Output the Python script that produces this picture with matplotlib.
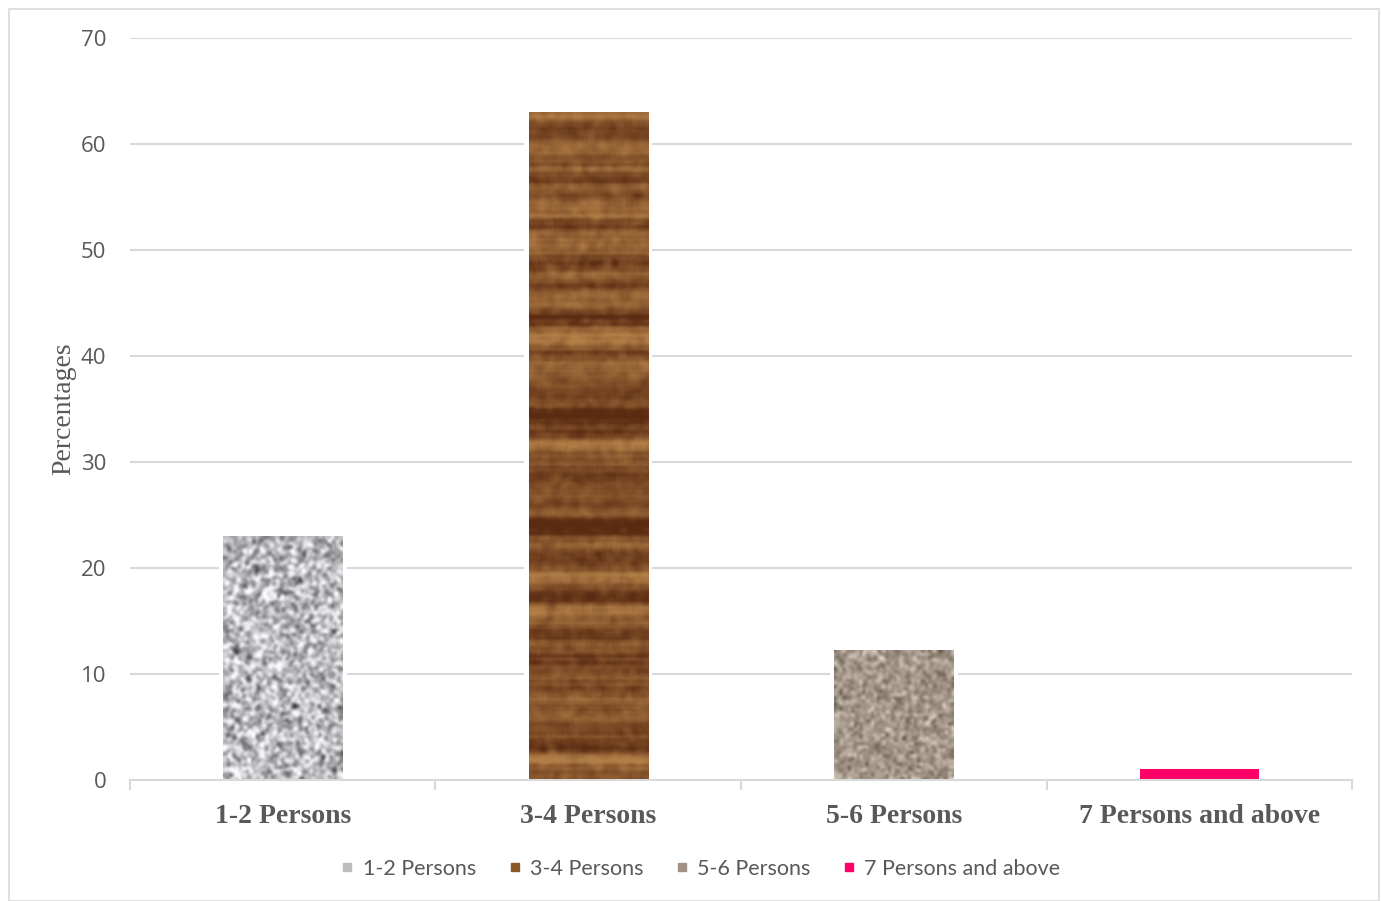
import matplotlib
matplotlib.use("Agg")
import matplotlib.pyplot as plt
import numpy as np
from matplotlib.lines import Line2D
from matplotlib.patches import Rectangle

categories = ["1-2 Persons", "3-4 Persons", "5-6 Persons", "7 Persons and above"]
percentages = [23, 63, 12.2, 1]
legend_colors = ["#BDBDBD", "#8B5A2B", "#A09284", "#FF0066"]

GRID = "#D9D9D9"
TEXT = "#595959"
BAR_WIDTH = 0.39

rng = np.random.default_rng(7)


def smooth(a, k):
    """Simple box blur along both axes."""
    kern = np.ones(k) / k
    a = np.apply_along_axis(lambda r: np.convolve(r, kern, mode="same"), 1, a)
    a = np.apply_along_axis(lambda c: np.convolve(c, kern, mode="same"), 0, a)
    return a


def granite(h, w, base, spread):
    n = smooth(rng.normal(size=(h, w)), 2)
    n = n / n.std()
    v = np.clip(base + spread * n, 0, 1)
    return np.dstack([v, v, v * 1.02]).clip(0, 1)


def stone(h, w):
    n = rng.normal(size=(h, w))
    c0 = np.array([0.64, 0.59, 0.54])
    img = c0[None, None, :] + 0.13 * n[..., None]
    return np.clip(img, 0, 1)


def wood(h, w):
    rows = rng.normal(size=h)
    rows = np.convolve(rows, np.ones(5) / 5, mode="same")
    rows = rows / rows.std()
    streak = smooth(rng.normal(size=(h, w)), 4)
    streak = streak / streak.std()
    t = np.clip(0.5 + 0.24 * rows[:, None] + 0.08 * streak, 0, 1)
    dark = np.array([0.36, 0.17, 0.07])
    light = np.array([0.70, 0.50, 0.28])
    return dark[None, None, :] + (light - dark)[None, None, :] * t[..., None]


textures = [
    granite(110, 55, 0.74, 0.16),
    wood(300, 60),
    stone(45, 42),
    None,
]

fig = plt.figure(figsize=(13.81, 9.01), dpi=100)
fig.patches.append(Rectangle((0.0065, 0.0), 0.992, 0.99, transform=fig.transFigure,
                             fill=False, edgecolor="#D9D9D9", linewidth=1.2))
ax = fig.add_axes([0.0941, 0.1343, 0.8850, 0.8235])

x = np.arange(len(categories))
# white backing so the gridlines stop just short of each bar
ax.bar(x, percentages, width=BAR_WIDTH + 0.03, color="white", linewidth=0, zorder=2)
bars = ax.bar(x, percentages, width=BAR_WIDTH, color=legend_colors,
              linewidth=0, zorder=2.5)

for bar, tex in zip(bars, textures):
    if tex is None:
        continue
    x0, y0 = bar.get_x(), bar.get_y()
    ax.imshow(tex, extent=(x0, x0 + bar.get_width(), y0, y0 + bar.get_height()),
              aspect="auto", interpolation="bicubic", zorder=3)

ax.set_xlim(-0.5, 3.5)
ax.set_ylim(0, 70)
ax.set_yticks(range(0, 71, 10))
ax.yaxis.grid(True, color=GRID, linewidth=1.5, zorder=0)
ax.set_axisbelow(True)

for side in ["top", "right", "left"]:
    ax.spines[side].set_visible(False)
ax.spines["bottom"].set_color(GRID)
ax.spines["bottom"].set_linewidth(1.5)
ax.spines["bottom"].set_zorder(4)

ax.tick_params(axis="y", length=0, pad=17, labelsize=16, labelcolor=TEXT)
for lbl in ax.get_yticklabels():
    lbl.set_fontfamily("Open Sans")

ax.set_xticks(x)
ax.set_xticklabels(categories, fontfamily="Liberation Serif", fontweight="bold",
                   fontsize=20, color=TEXT)
ax.tick_params(axis="x", which="major", length=0, pad=17)
ax.set_xticks(np.arange(-0.5, 4.0, 1.0), minor=True)
ax.tick_params(axis="x", which="minor", length=7, width=1.5, color=GRID)

ax.set_ylabel("Percentages", fontfamily="Liberation Serif", fontsize=20,
              color=TEXT, labelpad=3)

handles = [Line2D([], [], marker="s", linestyle="none", markersize=6,
                  markerfacecolor=c, markeredgecolor=c) for c in legend_colors]
leg = fig.legend(handles, categories, loc="center", bbox_to_anchor=(0.505, 0.036),
                 ncol=4, frameon=False, handletextpad=0.1, columnspacing=1.2,
                 handlelength=1.2, prop={"family": "Lato", "size": 15.5})
for t in leg.get_texts():
    t.set_color(TEXT)

fig.savefig("out.png", dpi=100)
